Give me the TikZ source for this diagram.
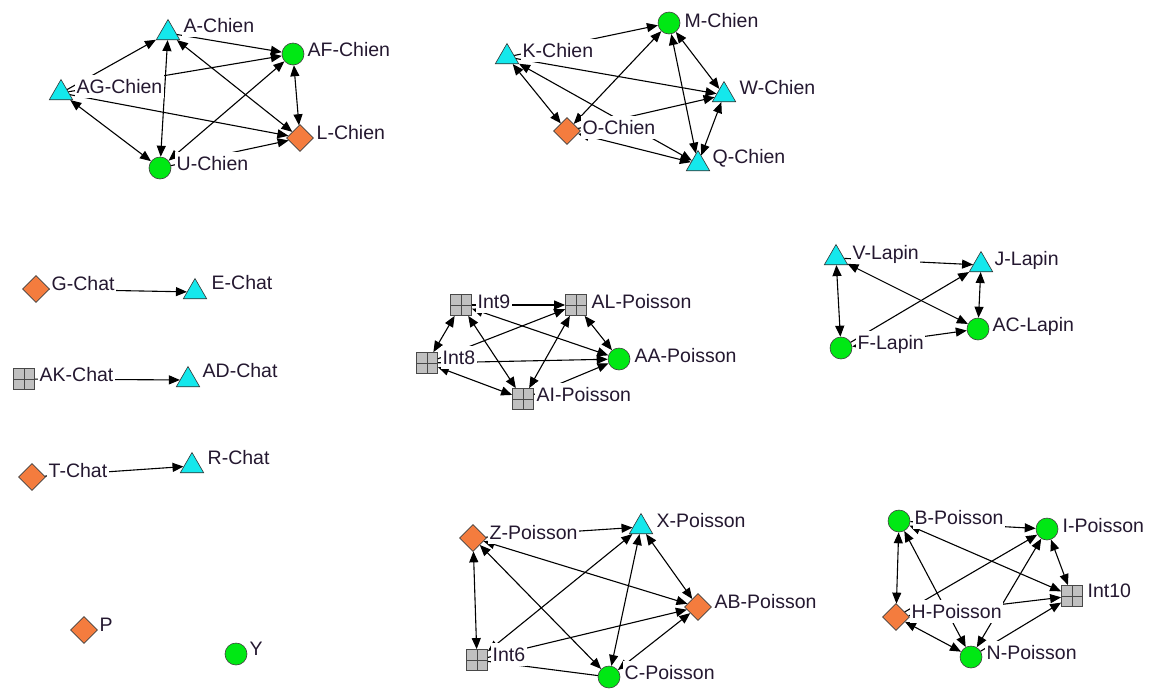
\documentclass[tikz,border=0pt]{standalone}
\usepackage{fontspec}
\setmainfont{Liberation Sans}
\usetikzlibrary{shapes.geometric,arrows.meta}
\definecolor{ncyan}{RGB}{20,232,236}
\definecolor{ngreen}{RGB}{0,232,20}
\definecolor{norange}{RGB}{244,124,62}
\definecolor{ngray}{RGB}{192,192,192}
\definecolor{ngridc}{RGB}{72,72,72}
\definecolor{labc}{RGB}{36,24,48}
\begin{document}
\begin{tikzpicture}[x=1pt,y=-1pt,
  every node/.style={inner sep=0pt},
  tri/.style={regular polygon, regular polygon sides=3, minimum size=27pt, fill=ncyan, draw=black!80, line width=0.6pt},
  circ/.style={circle, minimum size=22pt, fill=ngreen, draw=black!75, line width=0.6pt},
  dia/.style={diamond, aspect=1, minimum size=27pt, fill=norange, draw=black!75, line width=0.6pt},
  gridbox/.style={rectangle, minimum size=21pt, fill=ngray, draw=ngridc, line width=0.8pt,
    path picture={\draw[ngridc, line width=0.8pt] (path picture bounding box.north) -- (path picture bounding box.south)
      (path picture bounding box.west) -- (path picture bounding box.east);}},
  lab/.style={anchor=base west, fill=white, inner xsep=1.5pt, inner ysep=0.5pt, text height=18pt, text depth=4pt,
    font=\fontsize{19.5}{22}\selectfont, text=labc},
  sarr/.style={line width=1.1pt, -{Triangle[length=11pt,width=9pt]}},
  darr/.style={line width=1.1pt, {Triangle[length=11pt,width=9pt]}-{Triangle[length=11pt,width=9pt]}},
  plainline/.style={line width=1.1pt},
]
\fill[white] (0,0) rectangle (1151,689);
\useasboundingbox (0,0) rectangle (1151,689);

% ---- shapes ----
% Chien cluster 1
\node[tri]  (A)  at (168,33) {};
\node[circ] (AF) at (293,54) {};
\node[tri]  (AG) at (61,93) {};
\node[dia]  (L)  at (300,138) {};
\node[circ] (U)  at (160,168) {};
% Chien cluster 2
\node[circ] (M)  at (669,23) {};
\node[tri]  (K)  at (507,57) {};
\node[tri]  (W)  at (724,95) {};
\node[dia]  (O)  at (567,131) {};
\node[tri]  (Q)  at (698,164) {};
% Chat
\node[dia]     (G)  at (36,289) {};
\node[tri]     (E)  at (195,292) {};
\node[gridbox] (AK) at (24,379) {};
\node[tri]     (AD) at (188,380) {};
\node[dia]     (T)  at (32,477) {};
\node[tri]     (R)  at (192,466) {};
\node[dia]     (P)  at (84,630) {};
\node[circ]    (Y)  at (236,654) {};
% Poisson middle
\node[gridbox] (I9) at (461,305) {};
\node[gridbox] (AL) at (576,305) {};
\node[gridbox] (I8) at (427,363) {};
\node[circ]    (AA) at (619,359) {};
\node[gridbox] (AI) at (523,399) {};
% Lapin
\node[tri]  (V)  at (836,258) {};
\node[tri]  (J)  at (981,265) {};
\node[circ] (F)  at (841,348) {};
\node[circ] (AC) at (978,329) {};
% Poisson bottom middle
\node[dia]     (Z)  at (473,538) {};
\node[tri]     (X)  at (641,527) {};
\node[dia]     (AB) at (698,607) {};
\node[gridbox] (I6) at (477,660) {};
\node[circ]    (C)  at (609,677) {};
% Poisson bottom right
\node[circ]    (B)   at (899,521) {};
\node[circ]    (I)   at (1047,529) {};
\node[gridbox] (I10) at (1072,596) {};
\node[dia]     (H)   at (896,617) {};
\node[circ]    (N)   at (971,657) {};

% ---- connectors ----
\draw[sarr] (AG) -- (A);
\draw[darr] (A) -- (U);
\draw[sarr] (A) -- (AF);
\draw[darr] (A) -- (L);
\draw[sarr] (AG) -- (AF);
\draw[darr] (AG) -- (U);
\draw[sarr] (AG) -- (L);
\draw[darr] (U) -- (AF);
\draw[sarr] (U) -- (L);
\draw[darr] (AF) -- (L);

\draw[sarr] (K) -- (M);
\draw[darr] (O) -- (M);
\draw[sarr] (K) -- (W);
\draw[darr] (K) -- (O);
\draw[darr] (K) -- (Q);
\draw[sarr] (O) -- (W);
\draw[darr] (M) -- (W);
\draw[darr] (M) -- (Q);
\draw[darr] (W) -- (Q);
\draw[darr] (O) -- (Q);

\draw[sarr] (G) -- (E);
\draw[sarr] (AK) -- (AD);
\draw[sarr] (T) -- (R);

\draw[sarr] (I9) -- (AL);
\draw[darr] (I9) -- (I8);
\draw[darr] (I9) -- (AA);
\draw[darr] (I9) -- (AI);
\draw[sarr] (I8) -- (AL);
\draw[sarr] (I8) -- (AA);
\draw[darr] (I8) -- (AI);
\draw[darr] (AL) -- (AI);
\draw[darr] (AL) -- (AA);
\draw[sarr] (AI) -- (AA);

\draw[sarr] (V) -- (J);
\draw[darr] (V) -- (AC);
\draw[darr] (V) -- (F);
\draw[sarr] (F) -- (J);
\draw[darr] (F) -- (AC);
\draw[darr] (J) -- (AC);

\draw[sarr] (Z) -- (X);
\draw[darr] (Z) -- (AB);
\draw[darr] (Z) -- (I6);
\draw[darr] (Z) -- (C);
\draw[darr] (I6) -- (X);
\draw[sarr] (I6) -- (AB);
\draw[plainline] (I6) -- (C);
\draw[darr] (X) -- (C);
\draw[darr] (X) -- (AB);
\draw[darr] (C) -- (AB);

\draw[sarr] (B) -- (I);
\draw[darr] (B) -- (H);
\draw[darr] (B) -- (I10);
\draw[darr] (B) -- (N);
\draw[sarr] (H) -- (I);
\draw[darr] (H) -- (N);
\draw[darr] (N) -- (I);
\draw[darr] (H) -- (I10);
\draw[darr] (I) -- (I10);
\draw[sarr] (N) -- (I10);

% ---- labels ----
\node[lab] (A-l)  at (182,32)  {A-Chien};
\node[lab] (AF-l) at (306,56)  {AF-Chien};
\node[lab] (AG-l) at (75,93)   {AG-Chien};
\node[lab] (L-l)  at (315,139) {L-Chien};
\node[lab] (U-l)  at (175,170) {U-Chien};
\node[lab] (M-l)  at (683,27)  {M-Chien};
\node[lab] (K-l)  at (521,57)  {K-Chien};
\node[lab] (W-l)  at (738,94)  {W-Chien};
\node[lab] (O-l)  at (581,134) {O-Chien};
\node[lab] (Q-l)  at (711,163) {Q-Chien};
\node[lab] (G-l)  at (50,290)  {G-Chat};
\node[lab] (E-l)  at (210,289) {E-Chat};
\node[lab] (AK-l) at (38,381)  {AK-Chat};
\node[lab] (AD-l) at (201,377) {AD-Chat};
\node[lab] (T-l)  at (47,477)  {T-Chat};
\node[lab] (R-l)  at (206,464) {R-Chat};
\node[lab] (P-l)  at (98,631)  {P};
\node[lab] (Y-l)  at (248,655) {Y};
\node[lab] (I9-l) at (476,308) {Int9};
\node[lab] (AL-l) at (590,308) {AL-Poisson};
\node[lab] (I8-l) at (441,364) {Int8};
\node[lab] (AA-l) at (633,362) {AA-Poisson};
\node[lab] (AI-l) at (535,401) {AI-Poisson};
\node[lab] (V-l)  at (851,259) {V-Lapin};
\node[lab] (J-l)  at (993,265) {J-Lapin};
\node[lab] (F-l)  at (856,349) {F-Lapin};
\node[lab] (AC-l) at (991,331) {AC-Lapin};
\node[lab] (Z-l)  at (488,539) {Z-Poisson};
\node[lab] (X-l)  at (655,527) {X-Poisson};
\node[lab] (AB-l) at (713,608) {AB-Poisson};
\node[lab] (I6-l) at (491,661) {Int6};
\node[lab] (C-l)  at (623,679) {C-Poisson};
\node[lab] (B-l)  at (913,524) {B-Poisson};
\node[lab] (I-l)  at (1061,532) {I-Poisson};
\node[lab] (I10-l) at (1086,597) {Int10};
\node[lab] (H-l)  at (910,618) {H-Poisson};
\node[lab] (N-l)  at (985,659) {N-Poisson};
\end{tikzpicture}
\end{document}
